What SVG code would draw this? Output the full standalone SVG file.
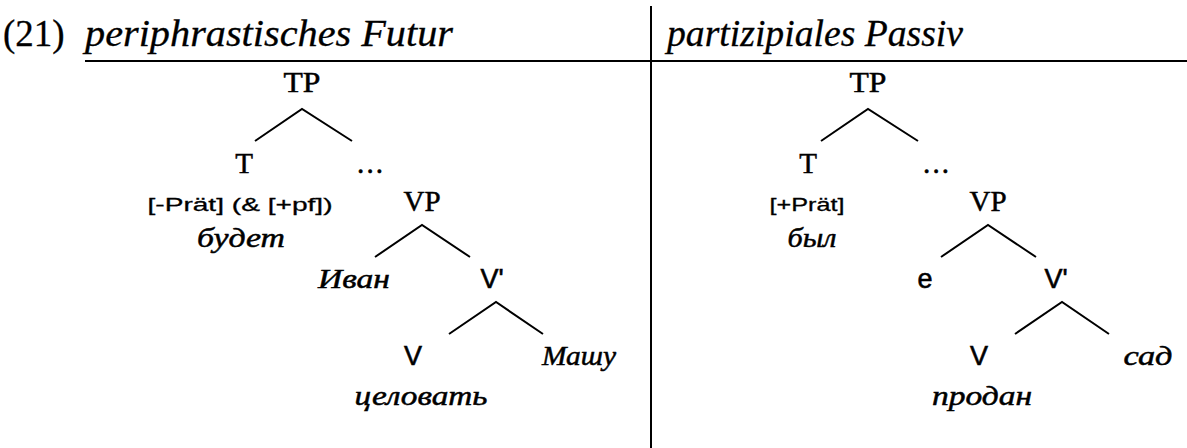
<svg xmlns="http://www.w3.org/2000/svg" width="1187" height="448" viewBox="0 0 1187 448">
<style>
.bg{fill:#ffffff}
.rule{stroke:#000;stroke-width:2;fill:none}
.edge{stroke:#000;stroke-width:2;fill:none;stroke-linecap:butt}
.title{font-family:"Liberation Serif",serif;font-size:37px;fill:#000;stroke:#000;stroke-width:0.3}
.it{font-style:italic}
.cat{font-family:"Liberation Serif",serif;font-size:29px;fill:#000;text-anchor:middle;stroke:#000;stroke-width:0.5}
.scat{font-family:"Liberation Sans",sans-serif;font-size:27px;fill:#000;text-anchor:middle;stroke:#000;stroke-width:0.6}
.feat{font-family:"Liberation Sans",sans-serif;font-size:19px;fill:#000;text-anchor:middle;stroke:#000;stroke-width:0.3}
.word{font-family:"Liberation Serif",serif;font-style:italic;font-size:28px;fill:#000;text-anchor:middle;stroke:#000;stroke-width:0.5}
</style>
<rect class="bg" x="0" y="0" width="1187" height="448"/>
<g id="frame">
  <line class="rule" x1="85" y1="61" x2="1187" y2="61"/>
  <line class="rule" x1="651" y1="6" x2="651" y2="448"/>
  <text class="title" x="3" y="46">(21)</text>
  <text class="title it" x="85" y="46" textLength="368" lengthAdjust="spacingAndGlyphs">periphrastisches Futur</text>
  <text class="title it" x="667" y="46" textLength="296" lengthAdjust="spacingAndGlyphs">partizipiales Passiv</text>
</g>
<g id="connectors">
  <path class="edge" d="M255,141 L302,109 L352,141"/>
  <path class="edge" d="M375,257 L422,225 L470,257"/>
  <path class="edge" d="M449,334 L496,302 L543,334"/>
  <path class="edge" d="M821,141 L868,109 L918,141"/>
  <path class="edge" d="M941,257 L988,225 L1036,257"/>
  <path class="edge" d="M1015,334 L1062,302 L1109,334"/>
</g>
<g id="left-TP"><text class="cat" x="302" y="92" textLength="37" lengthAdjust="spacingAndGlyphs">TP</text></g>
<g id="left-T"><text class="cat" x="244" y="173">T</text>
  <text class="feat" x="240" y="211" textLength="185" lengthAdjust="spacingAndGlyphs">[-Prät] (&amp; [+pf])</text>
  <text class="word" x="241" y="247" textLength="88" lengthAdjust="spacingAndGlyphs">будет</text></g>
<g id="left-dots"><text class="cat" x="370" y="173" textLength="26" lengthAdjust="spacing">...</text></g>
<g id="left-VP"><text class="cat" x="422" y="211">VP</text></g>
<g id="left-spec"><text class="word" x="354" y="288" textLength="72" lengthAdjust="spacingAndGlyphs">Иван</text></g>
<g id="left-Vbar"><text class="scat" x="492" y="288">V'</text></g>
<g id="left-V"><text class="scat" x="413" y="365">V</text>
  <text class="word" x="421" y="405" textLength="133" lengthAdjust="spacingAndGlyphs">целовать</text></g>
<g id="left-obj"><text class="word" x="579" y="365" textLength="74" lengthAdjust="spacingAndGlyphs">Машу</text></g>

<g id="right-TP"><text class="cat" x="868" y="92" textLength="37" lengthAdjust="spacingAndGlyphs">TP</text></g>
<g id="right-T"><text class="cat" x="808" y="173">T</text>
  <text class="feat" x="807" y="211" textLength="75" lengthAdjust="spacingAndGlyphs">[+Prät]</text>
  <text class="word" x="812" y="247" textLength="49" lengthAdjust="spacingAndGlyphs">был</text></g>
<g id="right-dots"><text class="cat" x="936" y="173" textLength="26" lengthAdjust="spacing">...</text></g>
<g id="right-VP"><text class="cat" x="988" y="211">VP</text></g>
<g id="right-spec"><text class="scat" x="925" y="288">e</text></g>
<g id="right-Vbar"><text class="scat" x="1056" y="288">V'</text></g>
<g id="right-V"><text class="scat" x="979" y="365">V</text>
  <text class="word" x="982" y="405" textLength="100" lengthAdjust="spacingAndGlyphs">продан</text></g>
<g id="right-obj"><text class="word" x="1148" y="365" textLength="49" lengthAdjust="spacingAndGlyphs">сад</text></g>
</svg>
